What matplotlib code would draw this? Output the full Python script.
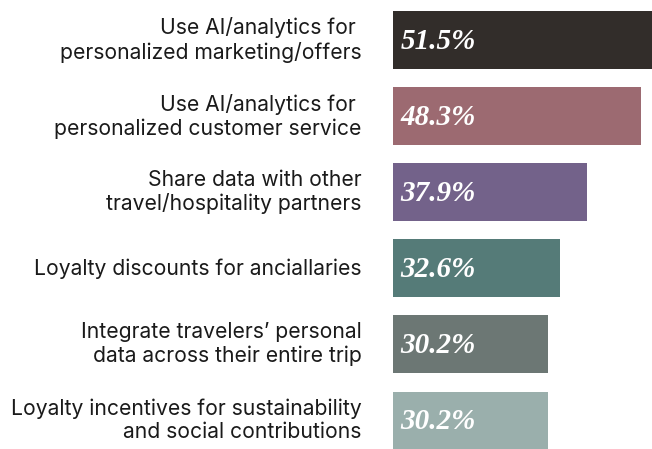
import matplotlib
matplotlib.use('Agg')
import matplotlib.pyplot as plt
import numpy as np

# data
labels = [
    "Use AI/analytics for \npersonalized marketing/offers",
    "Use AI/analytics for \npersonalized customer service",
    "Share data with other\ntravel/hospitality partners",
    "Loyalty discounts for anciallaries",
    "Integrate travelers\u2019 personal\ndata across their entire trip",
    "Loyalty incentives for sustainability\nand social contributions",
]
values = [51.5, 48.3, 37.9, 32.6, 30.2, 30.2]
colors = ["#322d2a", "#9c6a71", "#73628a", "#557b78", "#6c7774", "#9aafac"]

fig = plt.figure(figsize=(6.52, 4.49), dpi=100)
ax = fig.add_axes([393 / 652, 0, 1 - 393 / 652, 1])

y = np.arange(len(values))
ax.barh(y, values, height=0.76, color=colors)
ax.set_xlim(0, 50.5)
ax.set_ylim(5.375, -0.526)

for i, v in enumerate(values):
    ax.text(1.5, i + 0.02, f"{v:.1f}%", color="white", fontsize=21,
            family="Liberation Serif", weight="bold", style="italic",
            va="center", ha="left")
    # category label to the left of the axes
    ax.text(-6.1, i, labels[i], fontsize=15.2, family="Inter", color="#1a1a1a",
            ha="right", va="center", linespacing=1.2)

ax.axis("off")
fig.savefig("out.png", dpi=100)
